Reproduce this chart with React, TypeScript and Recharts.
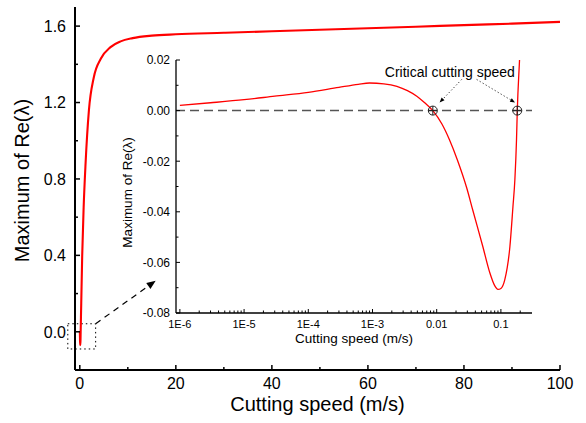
import React from "react";
import {
  LineChart,
  Line,
  XAxis,
  YAxis,
  ReferenceLine,
  ReferenceArea,
  ReferenceDot,
  Label,
} from "recharts";

const FONT = "'Liberation Sans', Arial, Helvetica, sans-serif";

// main plot: cutting speed (m/s) -> maximum of Re(lambda)
const mainSpeed = [0, 0.01, 0.05, 0.09, 0.14, 0.18, 0.3, 0.5, 0.8, 1.2, 1.9, 2.9, 4.4, 6.4, 8.5, 11, 15, 20, 30, 40, 50, 60, 70, 80, 90, 100];
const mainRe = [0.002, 0, -0.05, -0.07, -0.05, 0, 0.15, 0.4, 0.65, 0.88, 1.16, 1.33, 1.43, 1.49, 1.52, 1.537, 1.55, 1.557, 1.565, 1.573, 1.581, 1.589, 1.597, 1.605, 1.613, 1.622];

// inset: low speed range on a log axis
const insetSpeed = [1e-6, 3e-6, 1e-5, 3e-5, 1e-4, 3e-4, 6e-4, 9e-4, 1.5e-3, 2.4e-3, 3.5e-3, 4.9e-3, 6.5e-3, 8.7e-3, 0.012, 0.0158, 0.021, 0.0293, 0.0366, 0.052, 0.067, 0.08, 0.09, 0.1, 0.115, 0.138, 0.154, 0.165, 0.175, 0.18, 0.195, 0.22];
const insetRe = [0.0021, 0.0031, 0.0043, 0.0057, 0.0072, 0.0092, 0.0104, 0.0109, 0.0106, 0.0096, 0.0079, 0.0057, 0.0031, 0, -0.0052, -0.0115, -0.0195, -0.0305, -0.0395, -0.0535, -0.064, -0.0692, -0.0707, -0.0703, -0.0668, -0.0538, -0.038, -0.0273, -0.0115, 0, 0.02, 0.05];

// critical speeds (where the curve crosses zero)
const criticalSpeeds = [0.0087, 0.18];

// ticks
const mainXMajor = [0, 20, 40, 60, 80, 100];
const mainXMinor = [10, 30, 50, 70, 90];
const mainYMajor = [0, 0.4, 0.8, 1.2, 1.6];
const mainYMinor = [0.2, 0.6, 1.0, 1.4];
const insetXMajor = [1e-6, 1e-5, 1e-4, 1e-3, 0.01, 0.1];
const insetXLabels = ["1E-6", "1E-5", "1E-4", "1E-3", "0.01", "0.1"];
const insetXMinorMult = [2, 3, 4, 5, 6, 7, 8, 9];
const insetYMajor = [-0.08, -0.06, -0.04, -0.02, 0, 0.02];
const insetYMinor = [-0.07, -0.05, -0.03, -0.01, 0.01];

const mainData = mainSpeed.map((s, i) => ({ speed: s, re: mainRe[i] }));
const insetData = insetSpeed.map((s, i) => ({ speed: s, re: insetRe[i] }));

const insetXMinor: number[] = [];
insetXMajor.forEach((d) =>
  insetXMinorMult.forEach((m) => {
    const v = +(d * m).toPrecision(3);
    if (v < 0.3) insetXMinor.push(v);
  })
);

const MAIN_X_DOMAIN: [number, number] = [-1, 100];
const MAIN_Y_DOMAIN: [number, number] = [-0.2, 1.7];
const INSET_X_DOMAIN: [number, number] = [8.7e-7, 0.305];
const INSET_Y_DOMAIN: [number, number] = [-0.08, 0.02];

type Side = "bottom" | "top" | "left" | "right";
type TickCfg = {
  side: Side;
  majors: number[];
  big: number;
  small: number;
  width: number;
  fmt?: (v: number) => string;
  fontSize?: number;
  gap?: number;
};

// inward ticks (major / minor) with optional label
const makeTick = (c: TickCfg) => (p: any) => {
  const { x, y, payload } = p;
  const v = payload.value;
  const major = c.majors.includes(v);
  const len = major ? c.big : c.small;
  let x2 = x;
  let y2 = y;
  if (c.side === "bottom") y2 = y - len;
  if (c.side === "top") y2 = y + len;
  if (c.side === "left") x2 = x + len;
  if (c.side === "right") x2 = x - len;
  let label = null;
  if (major && c.fmt) {
    const fs = c.fontSize || 12;
    const gap = c.gap || 0;
    if (c.side === "bottom") {
      label = (
        <text x={x} y={y + gap} textAnchor="middle" fontSize={fs} fill="#000" fontFamily={FONT}>
          {c.fmt(v)}
        </text>
      );
    } else {
      label = (
        <text x={x - gap} y={y + fs * 0.36} textAnchor="end" fontSize={fs} fill="#000" fontFamily={FONT}>
          {c.fmt(v)}
        </text>
      );
    }
  }
  return (
    <g>
      <line x1={x} y1={y} x2={x2} y2={y2} stroke="#000" strokeWidth={c.width} />
      {label}
    </g>
  );
};

const VTitle = (p: any) => {
  const { viewBox, text, size, bx, dy } = p;
  const cx = bx;
  const cy = viewBox.y + viewBox.height / 2 + dy;
  return (
    <text
      x={cx}
      y={cy}
      transform={`rotate(-90 ${cx} ${cy})`}
      textAnchor="middle"
      fontSize={size}
      fill="#000"
      fontFamily={FONT}
    >
      {text}
    </text>
  );
};

const arrowShape = (dash: string, head: number, width: number) => (p: any) => {
  const { x1, y1, x2, y2 } = p;
  const a = Math.atan2(y2 - y1, x2 - x1);
  const hx = x2 - head * Math.cos(a);
  const hy = y2 - head * Math.sin(a);
  const w = head * 0.4;
  const px = -Math.sin(a) * w;
  const py = Math.cos(a) * w;
  return (
    <g>
      <line x1={x1} y1={y1} x2={hx} y2={hy} stroke="#000" strokeWidth={width} strokeDasharray={dash} />
      <polygon points={`${x2},${y2} ${hx + px},${hy + py} ${hx - px},${hy - py}`} fill="#000" />
    </g>
  );
};

const CrossCircle = (p: any) => {
  const { cx, cy } = p;
  const r = 4.5;
  return (
    <g stroke="#222" strokeWidth={1} fill="none">
      <circle cx={cx} cy={cy} r={r} />
      <line x1={cx - r} y1={cy} x2={cx + r} y2={cy} />
      <line x1={cx} y1={cy - r} x2={cx} y2={cy + r} />
    </g>
  );
};

const NoteText = (p: any) => (
  <text x={p.cx} y={p.cy} textAnchor="middle" fontSize={14} fill="#000" fontFamily={FONT}>
    Critical cutting speed
  </text>
);

const MainChart = () => (
  <LineChart width={586} height={423} data={mainData} margin={{ top: 7, right: 26, bottom: 0, left: 0 }}>
    <XAxis
      dataKey="speed"
      type="number"
      domain={MAIN_X_DOMAIN}
      allowDataOverflow
      ticks={[...mainXMajor, ...mainXMinor]}
      interval={0}
      height={53}
      tickSize={0}
      tickMargin={0}
      tickLine={false}
      axisLine={{ stroke: "#000", strokeWidth: 2 }}
      tick={makeTick({ side: "bottom", majors: mainXMajor, big: 5, small: 3, width: 1.5, fmt: (v) => String(v), fontSize: 16, gap: 18.5 })}
    >
      <Label
        value="Cutting speed (m/s)"
        position="insideBottom"
        offset={12}
        fontSize={20}
        fill="#000"
        fontFamily={FONT}
      />
    </XAxis>
    <XAxis
      xAxisId="top"
      orientation="top"
      type="number"
      domain={MAIN_X_DOMAIN}
      allowDataOverflow
      ticks={[...mainXMajor, ...mainXMinor]}
      interval={0}
      height={0}
      tickSize={0}
      tickMargin={0}
      tickLine={false}
      axisLine={{ stroke: "#000", strokeWidth: 2 }}
      tick={makeTick({ side: "top", majors: mainXMajor, big: 5, small: 3, width: 1.5 })}
    />
    <YAxis
      type="number"
      domain={MAIN_Y_DOMAIN}
      allowDataOverflow
      ticks={[...mainYMajor, ...mainYMinor]}
      interval={0}
      width={75}
      tickSize={0}
      tickMargin={0}
      tickLine={false}
      axisLine={{ stroke: "#000", strokeWidth: 2 }}
      tick={makeTick({ side: "left", majors: mainYMajor, big: 5, small: 3, width: 1.5, fmt: (v) => v.toFixed(1), fontSize: 16, gap: 9 })}
    >
      <Label content={(p: any) => <VTitle {...p} text="Maximum of Re(λ)" size={20} bx={29} dy={-8} />} />
    </YAxis>
    <YAxis
      yAxisId="right"
      orientation="right"
      type="number"
      domain={MAIN_Y_DOMAIN}
      allowDataOverflow
      ticks={[...mainYMajor, ...mainYMinor]}
      interval={0}
      width={0}
      tickSize={0}
      tickMargin={0}
      tickLine={false}
      axisLine={{ stroke: "#000", strokeWidth: 2 }}
      tick={makeTick({ side: "right", majors: mainYMajor, big: 5, small: 3, width: 1.5 })}
    />
    <ReferenceArea
      x1={-2.5}
      x2={3.3}
      y1={-0.09}
      y2={0.042}
      ifOverflow="visible"
      fill="none"
      stroke="#000"
      strokeWidth={1}
      strokeDasharray="1.5 3"
    />
    <ReferenceLine
      segment={[
        { x: 3.3, y: 0.042 },
        { x: 15.8, y: 0.267 },
      ]}
      ifOverflow="visible"
      shape={arrowShape("6 5", 9, 1.2)}
    />
    <Line type="monotone" dataKey="re" stroke="#ff0000" strokeWidth={2.1} dot={false} isAnimationActive={false} />
  </LineChart>
);

const InsetChart = () => (
  <LineChart width={440} height={300} data={insetData} margin={{ top: 10, right: 8, bottom: 0, left: 0 }}>
    <XAxis
      dataKey="speed"
      type="number"
      scale="log"
      domain={INSET_X_DOMAIN}
      allowDataOverflow
      ticks={[...insetXMajor, ...insetXMinor]}
      interval={0}
      height={37}
      tickSize={0}
      tickMargin={0}
      tickLine={false}
      axisLine={{ stroke: "#000", strokeWidth: 1.3 }}
      tick={makeTick({
        side: "bottom",
        majors: insetXMajor,
        big: 4,
        small: 2.5,
        width: 1,
        fmt: (v) => insetXLabels[insetXMajor.indexOf(v)],
        fontSize: 11,
        gap: 15,
      })}
    >
      <Label
        value="Cutting speed (m/s)"
        position="insideBottom"
        offset={7}
        fontSize={13.5}
        fill="#000"
        fontFamily={FONT}
      />
    </XAxis>
    <XAxis
      xAxisId="top"
      orientation="top"
      type="number"
      scale="log"
      domain={INSET_X_DOMAIN}
      allowDataOverflow
      ticks={[...insetXMajor, ...insetXMinor]}
      interval={0}
      height={0}
      tickSize={0}
      tickMargin={0}
      tickLine={false}
      axisLine={{ stroke: "#000", strokeWidth: 1.3 }}
      tick={makeTick({ side: "top", majors: insetXMajor, big: 4, small: 2.5, width: 1 })}
    />
    <YAxis
      type="number"
      domain={INSET_Y_DOMAIN}
      allowDataOverflow
      ticks={[...insetYMajor, ...insetYMinor]}
      interval={0}
      width={76}
      tickSize={0}
      tickMargin={0}
      tickLine={false}
      axisLine={{ stroke: "#000", strokeWidth: 1.3 }}
      tick={makeTick({ side: "left", majors: insetYMajor, big: 4, small: 2.5, width: 1, fmt: (v) => v.toFixed(2), fontSize: 12, gap: 6 })}
    >
      <Label content={(p: any) => <VTitle {...p} text="Maximum of Re(λ)" size={13.5} bx={32} dy={6} />} />
    </YAxis>
    <YAxis
      yAxisId="right"
      orientation="right"
      type="number"
      domain={INSET_Y_DOMAIN}
      allowDataOverflow
      ticks={[...insetYMajor, ...insetYMinor]}
      interval={0}
      width={0}
      tickSize={0}
      tickMargin={0}
      tickLine={false}
      axisLine={{ stroke: "#000", strokeWidth: 1.3 }}
      tick={makeTick({ side: "right", majors: insetYMajor, big: 4, small: 2.5, width: 1 })}
    />
    <ReferenceLine y={0} stroke="#555" strokeWidth={1.5} strokeDasharray="9 5" />
    <Line type="monotone" dataKey="re" stroke="#ff0000" strokeWidth={1.3} dot={false} isAnimationActive={false} />
    <ReferenceLine
      segment={[
        { x: 0.0245, y: 0.0123 },
        { x: 0.0111, y: 0.0032 },
      ]}
      ifOverflow="visible"
      shape={arrowShape("1 2.5", 5, 1)}
    />
    <ReferenceLine
      segment={[
        { x: 0.042, y: 0.0123 },
        { x: 0.166, y: 0.0032 },
      ]}
      ifOverflow="visible"
      shape={arrowShape("1 2.5", 5, 1)}
    />
    {criticalSpeeds.map((s) => (
      <ReferenceDot key={s} x={s} y={0} r={4.5} ifOverflow="visible" shape={CrossCircle} />
    ))}
    <ReferenceDot x={0.016} y={0.0134} r={0} ifOverflow="visible" shape={NoteText} />
  </LineChart>
);

export default function App() {
  return (
    <div style={{ position: "absolute", left: 0, top: 0, width: 586, height: 423, background: "#fff" }}>
      <MainChart />
      <div style={{ position: "absolute", left: 100, top: 50 }}>
        <InsetChart />
      </div>
    </div>
  );
}
